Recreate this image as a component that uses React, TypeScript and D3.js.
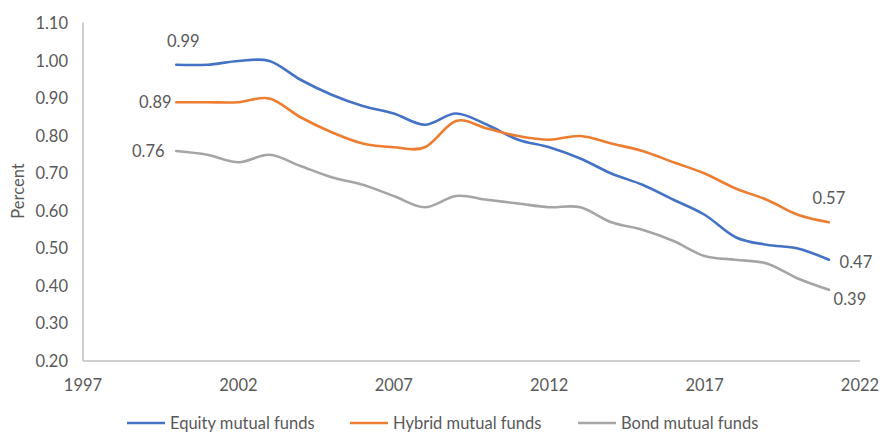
import React from "react";
import * as d3 from "d3";

const years = [2000, 2001, 2002, 2003, 2004, 2005, 2006, 2007, 2008, 2009, 2010, 2011, 2012, 2013, 2014, 2015, 2016, 2017, 2018, 2019, 2020, 2021];
const equity = [0.99, 0.99, 1.0, 1.0, 0.95, 0.91, 0.88, 0.86, 0.83, 0.86, 0.83, 0.79, 0.77, 0.74, 0.7, 0.67, 0.63, 0.59, 0.53, 0.51, 0.5, 0.47];
const hybrid = [0.89, 0.89, 0.89, 0.9, 0.85, 0.81, 0.78, 0.77, 0.77, 0.84, 0.82, 0.8, 0.79, 0.8, 0.78, 0.76, 0.73, 0.7, 0.66, 0.63, 0.59, 0.57];
const bond = [0.76, 0.75, 0.73, 0.75, 0.72, 0.69, 0.67, 0.64, 0.61, 0.64, 0.63, 0.62, 0.61, 0.61, 0.57, 0.55, 0.52, 0.48, 0.47, 0.46, 0.42, 0.39];
const seriesNames = ["Equity mutual funds", "Hybrid mutual funds", "Bond mutual funds"];
const colors = ["#4472C4", "#ED7D31", "#A5A5A5"];
const yTicks = [0.2, 0.3, 0.4, 0.5, 0.6, 0.7, 0.8, 0.9, 1.0, 1.1];
const xTicks = [1997, 2002, 2007, 2012, 2017, 2022];

const FONT = "Lato, 'Open Sans', sans-serif";
const FS = 16.5;
const TXT = "#595959";

export default function App() {
  const W = 882, H = 432;
  const left = 83, right = 860, top = 23.5, bottom = 361;
  const x = d3.scaleLinear().domain([1997, 2022]).range([left, right]);
  const y = d3.scaleLinear().domain([0.2, 1.1]).range([bottom, top]);
  const line = d3
    .line<[number, number]>()
    .x((d) => x(d[0]))
    .y((d) => y(d[1]))
    .curve(d3.curveCardinal.tension(0));
  const all = [equity, hybrid, bond];
  const n = years.length - 1;

  const startLabels = [
    { dx: 7, dy: -24 },
    { dx: -21, dy: 0 },
    { dx: -28, dy: 0 },
  ];
  const endLabels = [
    { dx: 27, dy: 2 },
    { dx: 0, dy: -24 },
    { dx: 21, dy: 9 },
  ];
  const legendX = [127, 350, 578];

  return (
    <svg width={W} height={H} style={{ position: "absolute", left: 0, top: 0, background: "#fff" }}>
      <rect width={W} height={H} fill="#fff" />
      <line x1={left} x2={left} y1={top - 1} y2={bottom} stroke="#BFBFBF" strokeWidth={1.5} />
      <line x1={left} x2={right} y1={bottom} y2={bottom} stroke="#BFBFBF" strokeWidth={1.5} />
      {yTicks.map((t) => (
        <text key={t} x={68} y={y(t)} dy="0.35em" textAnchor="end" fontFamily={FONT} fontSize={FS} fill={TXT}>
          {t.toFixed(2)}
        </text>
      ))}
      {xTicks.map((t) => (
        <text key={t} x={x(t)} y={385} dy="0.35em" textAnchor="middle" fontFamily={FONT} fontSize={FS} fill={TXT}>
          {t}
        </text>
      ))}
      <text
        transform={`translate(18,191) rotate(-90)`}
        textAnchor="middle"
        dy="0.35em"
        fontFamily={FONT}
        fontSize={FS}
        fill={TXT}
      >
        Percent
      </text>
      {all.map((vals, i) => (
        <path
          key={i}
          d={line(years.map((yr, j) => [yr, vals[j]] as [number, number])) || ""}
          fill="none"
          stroke={colors[i]}
          strokeWidth={2.6}
          strokeLinecap="round"
        />
      ))}
      {all.map((vals, i) => (
        <g key={i}>
          <text
            x={x(years[0]) + startLabels[i].dx}
            y={y(vals[0]) + startLabels[i].dy}
            dy="0.35em"
            textAnchor="middle"
            fontFamily={FONT}
            fontSize={FS}
            fill={TXT}
          >
            {vals[0].toFixed(2)}
          </text>
          <text
            x={x(years[n]) + endLabels[i].dx}
            y={y(vals[n]) + endLabels[i].dy}
            dy="0.35em"
            textAnchor="middle"
            fontFamily={FONT}
            fontSize={FS}
            fill={TXT}
          >
            {vals[n].toFixed(2)}
          </text>
        </g>
      ))}
      {seriesNames.map((s, i) => (
        <g key={s}>
          <line x1={legendX[i]} x2={legendX[i] + 38} y1={423} y2={423} stroke={colors[i]} strokeWidth={2.6} />
          <text x={legendX[i] + 43} y={423} dy="0.35em" fontFamily={FONT} fontSize={FS} fill={TXT}>
            {s}
          </text>
        </g>
      ))}
    </svg>
  );
}
